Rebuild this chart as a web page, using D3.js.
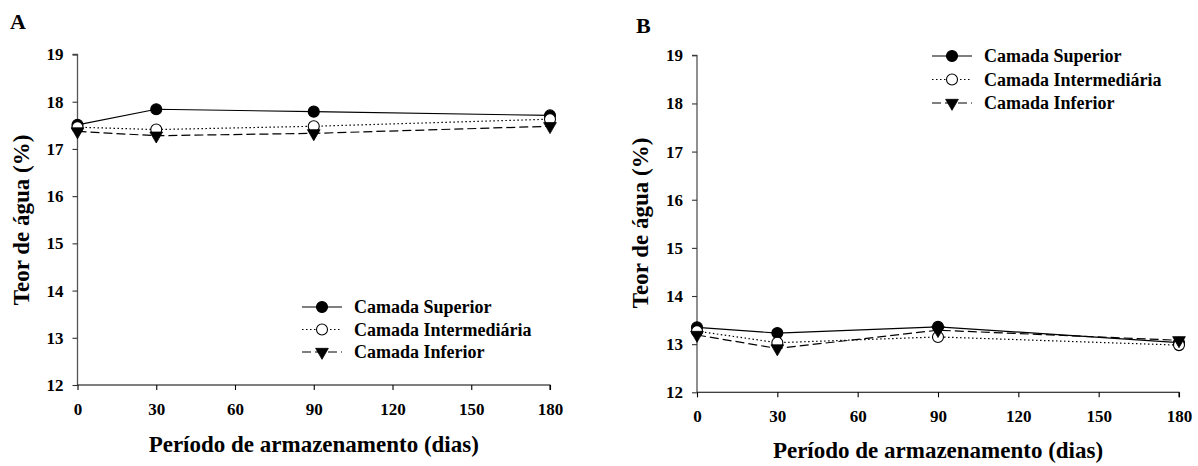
<!DOCTYPE html>
<html>
<head>
<meta charset="utf-8">
<script src="https://cdn.jsdelivr.net/npm/d3@7"></script>
<style>
  html, body { margin: 0; padding: 0; background: #fff; }
</style>
</head>
<body>
<svg id="chart" width="1198" height="466"></svg>
<script>
// ---- Data ----
const days = [0, 30, 90, 180];
const xTicks = [0, 30, 60, 90, 120, 150, 180];
const yTicks = [12, 13, 14, 15, 16, 17, 18, 19];
const seriesNames = ["Camada Superior", "Camada Intermediária", "Camada Inferior"];

const superiorA = [17.51, 17.84, 17.79, 17.71];
const intermediariaA = [17.46, 17.41, 17.48, 17.63];
const inferiorA = [17.37, 17.28, 17.33, 17.48];

const superiorB = [13.35, 13.23, 13.36, 13.03];
const intermediariaB = [13.27, 13.03, 13.15, 12.98];
const inferiorB = [13.19, 12.91, 13.29, 13.08];

const xTitle = "Período de armazenamento (dias)";
const yTitle = "Teor de água (%)";

const FONT = "Liberation Serif";

// ---- Styles per series ----
const styles = [
  { dash: null, marker: "circle", fill: "#000" },
  { dash: "1.5,2.5", marker: "circle", fill: "#fff" },
  { dash: "9,4", marker: "triangle", fill: "#000" }
];

const svg = d3.select("#chart");

function txt(sel, size) {
  return sel.style("font-family", FONT).style("font-weight", "bold")
    .style("font-size", size + "px").attr("fill", "#000");
}

function drawPanel(cfg) {
  const g = svg.append("g");
  const x = d3.scaleLinear().domain([0, 180]).range([cfg.x0, cfg.x1]);
  const y = d3.scaleLinear().domain([12, 19]).range([cfg.yb, cfg.yt]);

  // y axis
  const ya = g.append("g").attr("transform", `translate(${cfg.x0},0)`)
    .call(d3.axisLeft(y).tickValues(yTicks).tickSize(5).tickPadding(9).tickFormat(d3.format("d")));
  ya.select(".domain").attr("stroke", "#555").attr("stroke-width", 1.3).attr("d", `M-5,${cfg.yt}H0V${cfg.yb}`);
  ya.selectAll(".tick line").attr("stroke", "#333").attr("stroke-width", 1.1);
  txt(ya.selectAll(".tick text"), 17);

  // x axis
  const xa = g.append("g").attr("transform", `translate(0,${cfg.yb})`)
    .call(d3.axisBottom(x).tickValues(xTicks).tickSize(5).tickPadding(13).tickFormat(d3.format("d")));
  xa.select(".domain").attr("stroke", "#000").attr("stroke-width", 1.1).attr("d", `M${cfg.x0},0H${cfg.x1}V5`);
  xa.selectAll(".tick line").attr("stroke", "#000").attr("stroke-width", 1.1);
  txt(xa.selectAll(".tick text"), 17);

  // titles
  txt(g.append("text").attr("x", (cfg.x0 + cfg.x1) / 2).attr("y", cfg.xTitleY)
    .attr("text-anchor", "middle"), 23).text(xTitle);
  txt(g.append("text").attr("transform", `translate(${cfg.yTitleX},${cfg.yTitleCY}) rotate(-90)`)
    .attr("text-anchor", "middle"), 23).text(yTitle);
  txt(g.append("text").attr("x", cfg.letterX).attr("y", cfg.letterY), 22).text(cfg.letter);

  const line = d3.line().x((d, i) => x(days[i])).y(d => y(d));
  const tri = d3.symbol().type(d3.symbolTriangle).size(70);

  function marker(sel, st, px, py) {
    if (st.marker === "circle") {
      sel.append("circle").attr("cx", px).attr("cy", py).attr("r", 5.5)
        .attr("fill", st.fill).attr("stroke", "#000").attr("stroke-width", 1.1);
    } else {
      sel.append("path").attr("d", tri())
        .attr("transform", `translate(${px},${py}) rotate(180)`)
        .attr("fill", "#000").attr("stroke", "#000").attr("stroke-width", 0.8);
    }
  }

  cfg.series.forEach((vals, k) => {
    const st = styles[k];
    g.append("path").datum(vals).attr("d", line).attr("fill", "none")
      .attr("stroke", "#000").attr("stroke-width", 1.2)
      .attr("stroke-dasharray", st.dash);
  });
  cfg.series.forEach((vals, k) => {
    const st = styles[k];
    vals.forEach((v, i) => marker(g, st, x(days[i]), y(v)));
  });

  // legend
  seriesNames.forEach((name, k) => {
    const st = styles[k];
    const ly = cfg.legY + k * cfg.legGap;
    g.append("line").attr("x1", cfg.legX).attr("x2", cfg.legX + 40)
      .attr("y1", ly).attr("y2", ly).attr("stroke", "#000").attr("stroke-width", 1.2)
      .attr("stroke-dasharray", st.dash);
    marker(g, st, cfg.legX + 20, ly);
    txt(g.append("text").attr("x", cfg.legX + 52).attr("y", ly + 6), 18).text(name);
  });
}

drawPanel({
  letter: "A", letterX: 10, letterY: 29,
  x0: 77.5, x1: 550, yt: 54.5, yb: 385,
  xTitleY: 452, yTitleX: 29, yTitleCY: 220,
  legX: 302, legY: 307, legGap: 22.5,
  series: [superiorA, intermediariaA, inferiorA]
});

drawPanel({
  letter: "B", letterX: 636, letterY: 33,
  x0: 697, x1: 1179, yt: 55.3, yb: 392.3,
  xTitleY: 458, yTitleX: 648, yTitleCY: 223,
  legX: 932, legY: 56, legGap: 23.5,
  series: [superiorB, intermediariaB, inferiorB]
});
</script>
</body>
</html>
